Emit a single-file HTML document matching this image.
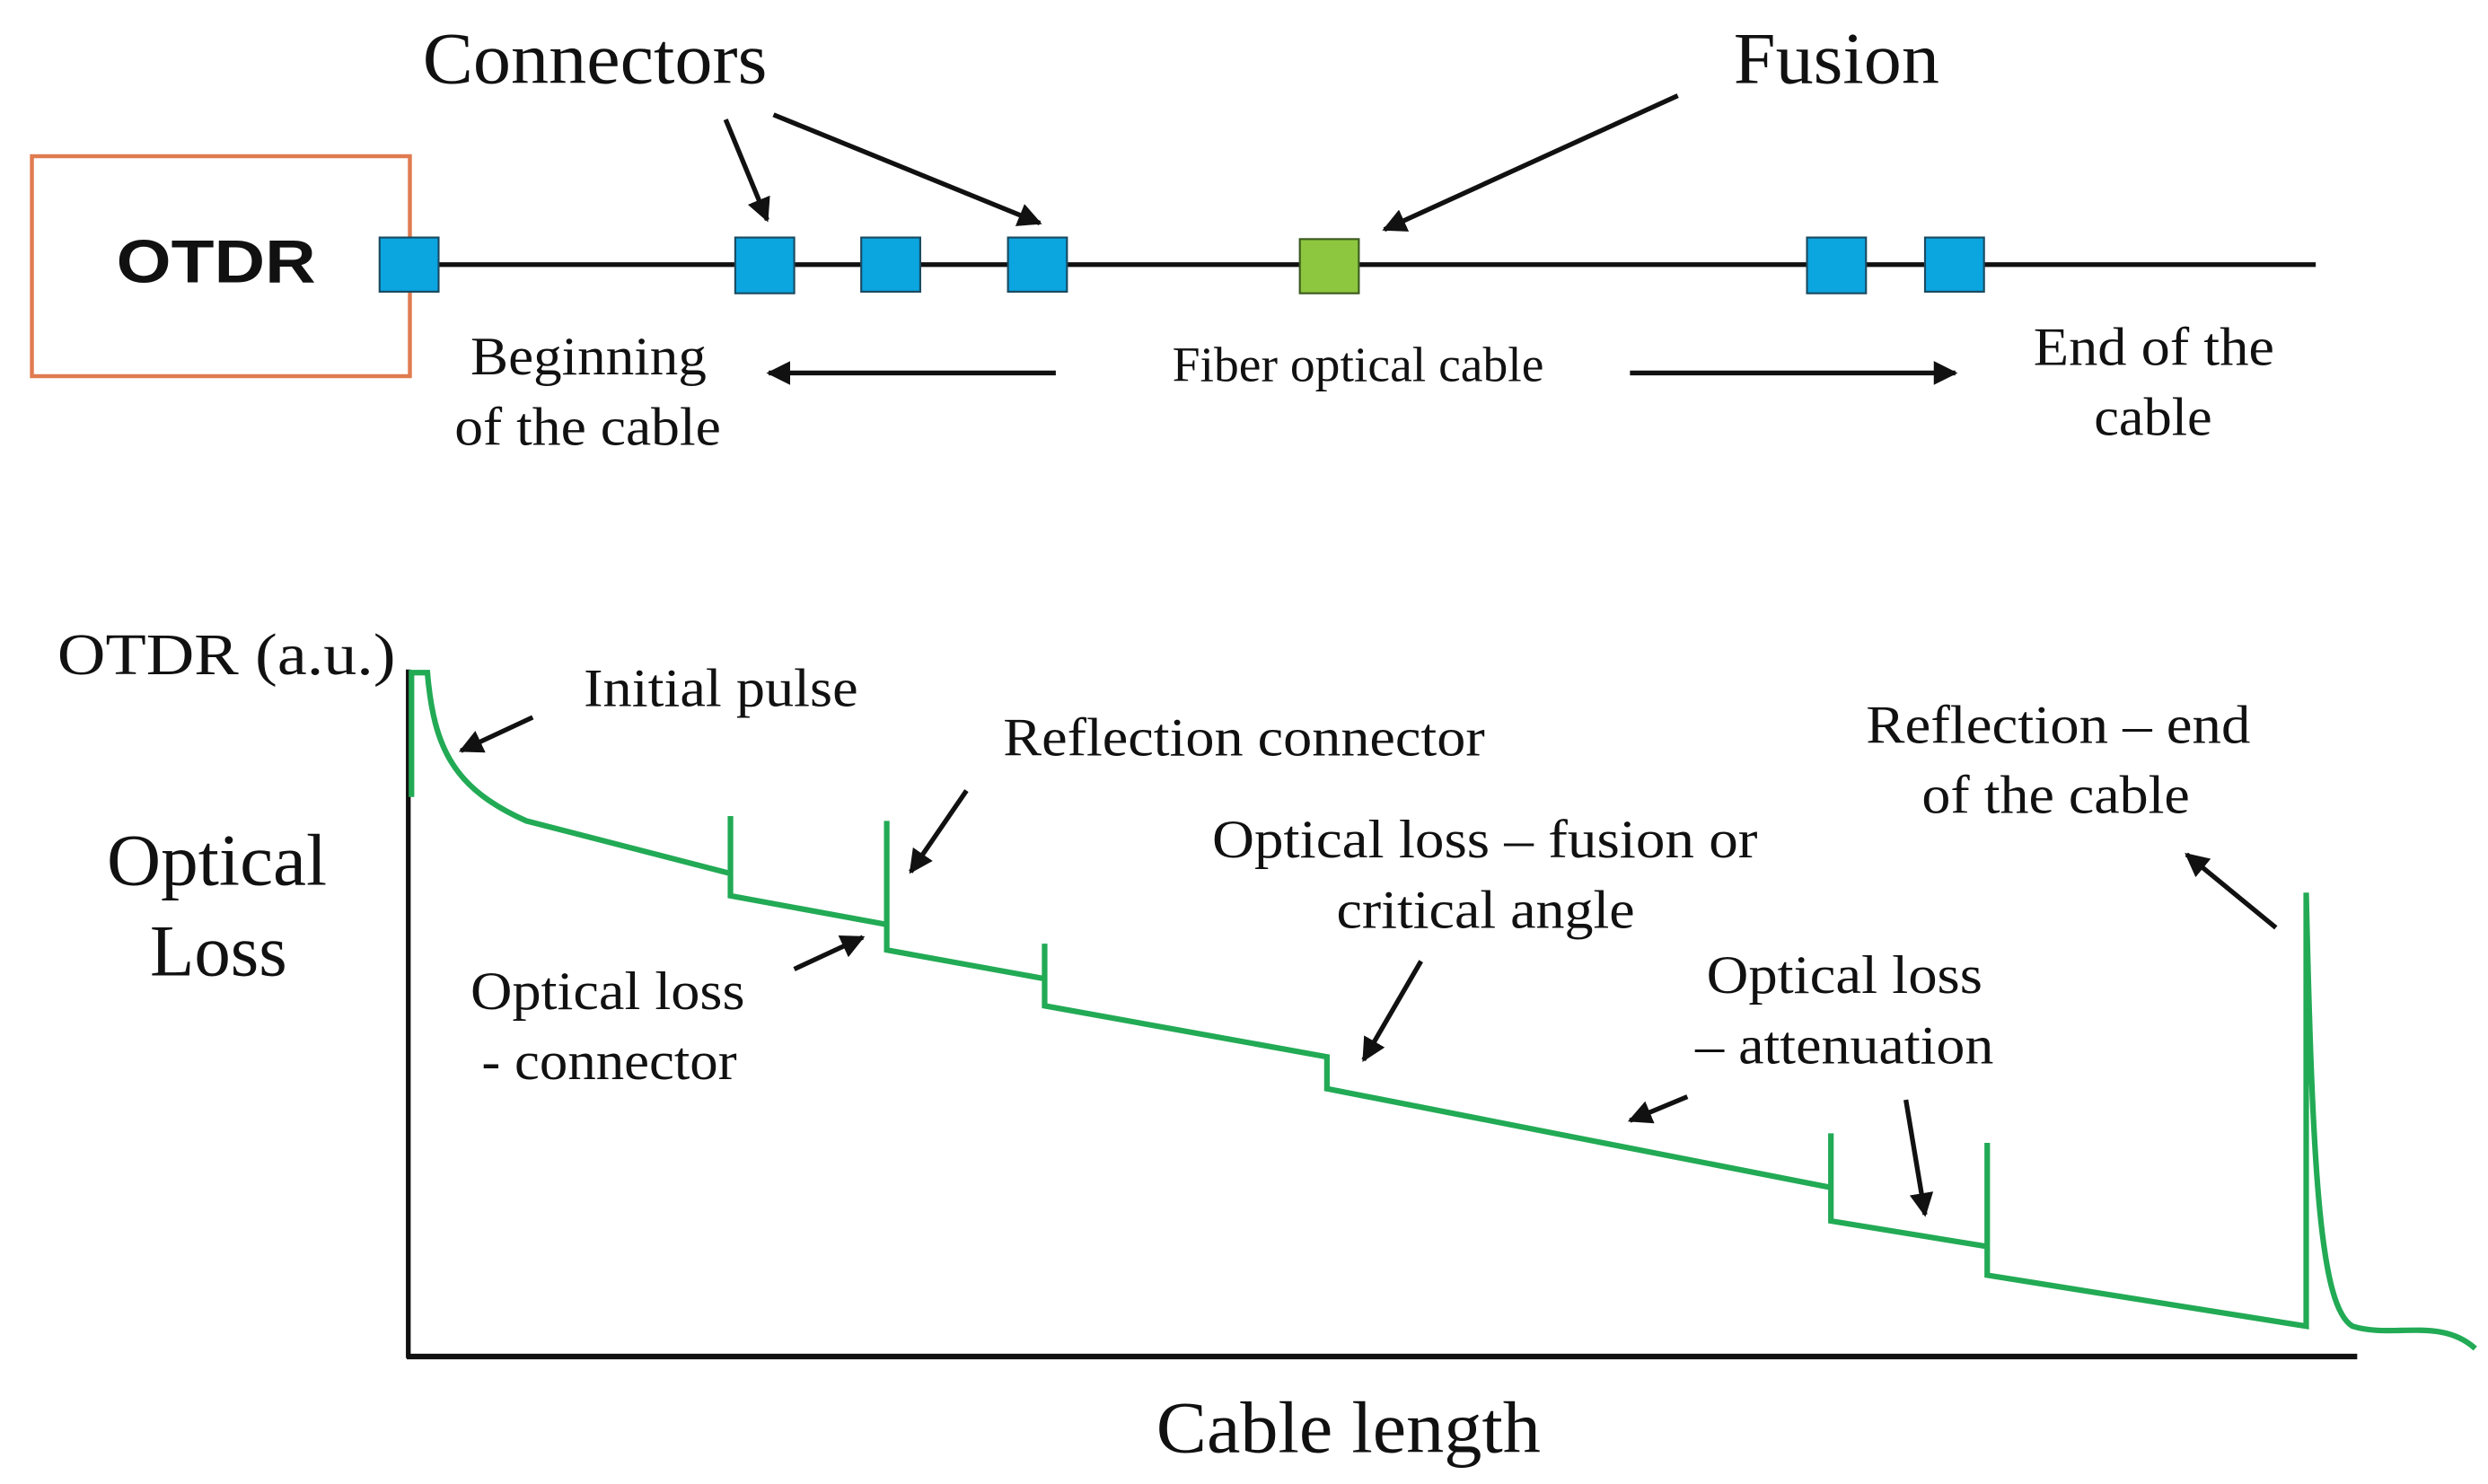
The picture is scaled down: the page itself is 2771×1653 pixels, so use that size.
<!DOCTYPE html>
<html><head><meta charset="utf-8"><style>
html,body{margin:0;padding:0;background:#fff;}
svg{display:block;}
text{font-family:"Liberation Serif",serif;fill:#111;}
</style></head><body>
<svg width="2771" height="1653" viewBox="0 0 1560 931" preserveAspectRatio="none" xmlns="http://www.w3.org/2000/svg">
<defs>
<marker id="ah" viewBox="0 0 10 10" refX="9" refY="5" markerWidth="5" markerHeight="5" orient="auto-start-reverse">
<path d="M0,0 L10,5 L0,10 z" fill="#111"/></marker>
</defs>
<rect x="20" y="98" width="237" height="138" fill="none" stroke="#e07b50" stroke-width="2.5"/>
<text x="73" y="177" textLength="125" lengthAdjust="spacingAndGlyphs" style="font-family:'Liberation Sans',sans-serif;font-weight:bold;font-size:38px">OTDR</text>
<line x1="257" y1="166" x2="1452" y2="166" stroke="#111" stroke-width="3"/>
<g fill="#0ba5e0" stroke="#1a4a60" stroke-width="1.2">
<rect x="238" y="149" width="37" height="34"/>
<rect x="461" y="149" width="37" height="35"/>
<rect x="540" y="149" width="37" height="34"/>
<rect x="632" y="149" width="37" height="34"/>
<rect x="1133" y="149" width="37" height="35"/>
<rect x="1207" y="149" width="37" height="34"/>
</g>
<rect x="815" y="150" width="37" height="34" fill="#8dc63f" stroke="#3c5a20" stroke-width="1.2"/>
<g lengthAdjust="spacingAndGlyphs">
<text x="265" y="52" font-size="46" textLength="216" lengthAdjust="spacingAndGlyphs">Connectors</text>
<text x="1087" y="52" font-size="46" textLength="129" lengthAdjust="spacingAndGlyphs">Fusion</text>
<text x="295" y="235" font-size="34" textLength="148" lengthAdjust="spacingAndGlyphs">Beginning</text>
<text x="285" y="279" font-size="34" textLength="167" lengthAdjust="spacingAndGlyphs">of the cable</text>
<text x="735" y="239" font-size="31" textLength="233" lengthAdjust="spacingAndGlyphs">Fiber optical cable</text>
<text x="1275" y="229" font-size="34" textLength="151" lengthAdjust="spacingAndGlyphs">End of the</text>
<text x="1313" y="273" font-size="34" textLength="74" lengthAdjust="spacingAndGlyphs">cable</text>
</g>
<g stroke="#111" stroke-width="3" marker-end="url(#ah)" fill="none">
<line x1="455" y1="75" x2="481" y2="138"/>
<line x1="485" y1="72" x2="652" y2="140"/>
<line x1="1052" y1="60" x2="868" y2="144"/>
<line x1="662" y1="234" x2="482" y2="234"/>
<line x1="1022" y1="234" x2="1226" y2="234"/>
</g>
<line x1="256" y1="420" x2="256" y2="852" stroke="#111" stroke-width="3"/>
<line x1="255" y1="851" x2="1478" y2="851" stroke="#111" stroke-width="3.5"/>
<text x="36" y="423" font-size="37" textLength="212" lengthAdjust="spacingAndGlyphs">OTDR (a.u.)</text>
<text x="67" y="555" font-size="46" textLength="138" lengthAdjust="spacingAndGlyphs">Optical</text>
<text x="94" y="612" font-size="46" textLength="86" lengthAdjust="spacingAndGlyphs">Loss</text>
<text x="725" y="911" font-size="46" textLength="241" lengthAdjust="spacingAndGlyphs">Cable length</text>
<path d="M258,500 L258,422 L268,422 C272,470 285,495 330,515 L458,548 L458,512 L458,562 L556,580 L556,515 L556,596 L655,614 L655,592 L655,631 L832,663 L832,683 L1148,745 L1148,711 L1148,766 L1246,782 L1246,717 L1246,800 L1446,832 L1446,560 C1450,740 1455,820 1475,832 C1500,840 1530,826 1552,846" fill="none" stroke="#22aa55" stroke-width="3.5" stroke-linejoin="miter"/>
<g font-size="34">
<text x="366" y="443" textLength="172" lengthAdjust="spacingAndGlyphs">Initial pulse</text>
<text x="629" y="474" textLength="302" lengthAdjust="spacingAndGlyphs">Reflection connector</text>
<text x="295" y="633" textLength="172" lengthAdjust="spacingAndGlyphs">Optical loss</text>
<text x="302" y="677" textLength="160" lengthAdjust="spacingAndGlyphs">- connector</text>
<text x="760" y="538" textLength="342" lengthAdjust="spacingAndGlyphs">Optical loss – fusion or</text>
<text x="838" y="582" textLength="187" lengthAdjust="spacingAndGlyphs">critical angle</text>
<text x="1070" y="623" textLength="173" lengthAdjust="spacingAndGlyphs">Optical loss</text>
<text x="1063" y="667" textLength="187" lengthAdjust="spacingAndGlyphs">– attenuation</text>
<text x="1170" y="466" textLength="241" lengthAdjust="spacingAndGlyphs">Reflection – end</text>
<text x="1205" y="510" textLength="168" lengthAdjust="spacingAndGlyphs">of the cable</text>
</g>
<g stroke="#111" stroke-width="3" marker-end="url(#ah)" fill="none">
<line x1="334" y1="450" x2="289" y2="471"/>
<line x1="606" y1="496" x2="571" y2="547"/>
<line x1="498" y1="608" x2="541" y2="588"/>
<line x1="891" y1="603" x2="855" y2="665"/>
<line x1="1058" y1="688" x2="1022" y2="703"/>
<line x1="1195" y1="690" x2="1207" y2="762"/>
<line x1="1427" y1="582" x2="1371" y2="536"/>
</g>
</svg>
</body></html>
